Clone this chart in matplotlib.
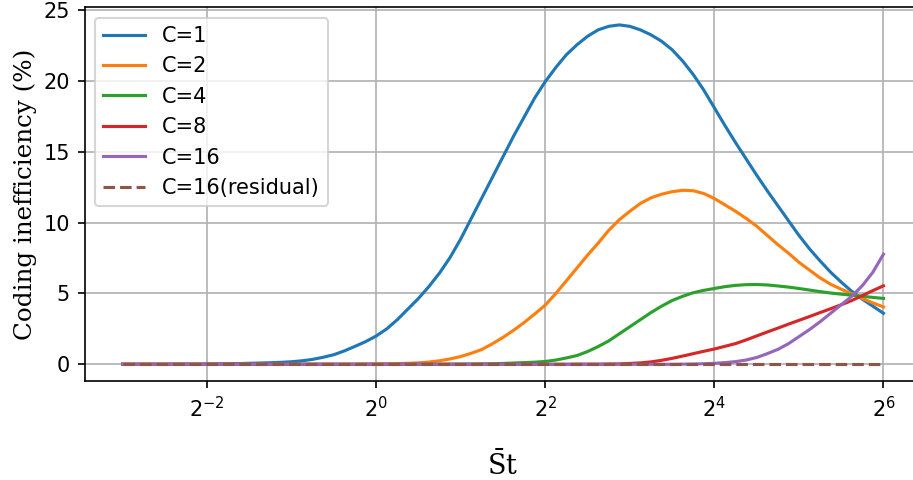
"""Coding inefficiency vs. St for several C values."""

import numpy as np
import matplotlib
matplotlib.use('Agg')
import matplotlib.pyplot as plt

# x positions as powers of two (St = 2**exponent), read every 1/8 octave
st_exponents = [
    -3.0, -2.875, -2.75, -2.625, -2.5, -2.375, -2.25, -2.125,
    -2.0, -1.875, -1.75, -1.625, -1.5, -1.375, -1.25, -1.125,
    -1.0, -0.875, -0.75, -0.625, -0.5, -0.375, -0.25, -0.125,
    0.0, 0.125, 0.25, 0.375, 0.5, 0.625, 0.75, 0.875,
    1.0, 1.125, 1.25, 1.375, 1.5, 1.625, 1.75, 1.875,
    2.0, 2.125, 2.25, 2.375, 2.5, 2.625, 2.75, 2.875,
    3.0, 3.125, 3.25, 3.375, 3.5, 3.625, 3.75, 3.875,
    4.0, 4.125, 4.25, 4.375, 4.5, 4.625, 4.75, 4.875,
    5.0, 5.125, 5.25, 5.375, 5.5, 5.625, 5.75, 5.875,
    6.0]

ineff_c1 = [
    0.0, 0.0, 0.0, 0.0, 0.0, 0.01, 0.01, 0.01,
    0.02, 0.03, 0.04, 0.05, 0.07, 0.09, 0.11, 0.14,
    0.18, 0.25, 0.35, 0.5, 0.68, 0.95, 1.27, 1.6,
    2.0, 2.5, 3.15, 3.9, 4.65, 5.5, 6.45, 7.55,
    8.85, 10.3, 11.75, 13.2, 14.65, 16.1, 17.45, 18.8,
    19.95, 20.95, 21.85, 22.55, 23.15, 23.6, 23.85, 23.95,
    23.85, 23.6, 23.25, 22.8, 22.2, 21.4, 20.45, 19.35,
    18.1, 16.85, 15.65, 14.5, 13.35, 12.25, 11.2, 10.15,
    9.1, 8.15, 7.3, 6.5, 5.8, 5.15, 4.6, 4.1,
    3.6]
ineff_c2 = [
    0.0, 0.0, 0.0, 0.0, 0.0, 0.0, 0.0, 0.0,
    0.0, 0.0, 0.0, 0.0, 0.0, 0.0, 0.0, 0.0,
    0.0, 0.0, 0.0, 0.0, 0.0, 0.0, 0.0, 0.01,
    0.02, 0.03, 0.05, 0.07, 0.1, 0.16, 0.25, 0.38,
    0.55, 0.78, 1.05, 1.45, 1.9, 2.4, 2.95, 3.55,
    4.18, 5.0, 5.9, 6.8, 7.7, 8.55, 9.45, 10.2,
    10.8, 11.35, 11.75, 12.0, 12.18, 12.28, 12.25, 12.05,
    11.7, 11.25, 10.8, 10.3, 9.75, 9.1, 8.45, 7.85,
    7.2, 6.65, 6.1, 5.65, 5.3, 4.98, 4.65, 4.33,
    4.05]
ineff_c4 = [
    0.0, 0.0, 0.0, 0.0, 0.0, 0.0, 0.0, 0.0,
    0.0, 0.0, 0.0, 0.0, 0.0, 0.0, 0.0, 0.0,
    0.0, 0.0, 0.0, 0.0, 0.0, 0.0, 0.0, 0.0,
    0.0, 0.0, 0.0, 0.0, 0.0, 0.0, 0.0, 0.01,
    0.01, 0.02, 0.03, 0.04, 0.06, 0.09, 0.12, 0.15,
    0.2, 0.3, 0.45, 0.62, 0.9, 1.25, 1.65, 2.15,
    2.65, 3.15, 3.65, 4.1, 4.5, 4.8, 5.05, 5.22,
    5.35, 5.48, 5.57, 5.62, 5.63, 5.6, 5.53, 5.45,
    5.35, 5.24, 5.13, 5.03, 4.95, 4.88, 4.8, 4.72,
    4.65]
ineff_c8 = [
    0.0, 0.0, 0.0, 0.0, 0.0, 0.0, 0.0, 0.0,
    0.0, 0.0, 0.0, 0.0, 0.0, 0.0, 0.0, 0.0,
    0.0, 0.0, 0.0, 0.0, 0.0, 0.0, 0.0, 0.0,
    0.0, 0.0, 0.0, 0.0, 0.0, 0.0, 0.0, 0.0,
    0.0, 0.0, 0.0, 0.0, 0.0, 0.0, 0.0, 0.0,
    0.0, 0.0, 0.0, 0.01, 0.01, 0.01, 0.02, 0.03,
    0.06, 0.1, 0.17, 0.28, 0.42, 0.58, 0.75, 0.92,
    1.08, 1.27, 1.46, 1.72, 2.0, 2.28, 2.55, 2.83,
    3.1, 3.37, 3.65, 3.92, 4.2, 4.5, 4.85, 5.2,
    5.54]
ineff_c16 = [
    0.0, 0.0, 0.0, 0.0, 0.0, 0.0, 0.0, 0.0,
    0.0, 0.0, 0.0, 0.0, 0.0, 0.0, 0.0, 0.0,
    0.0, 0.0, 0.0, 0.0, 0.0, 0.0, 0.0, 0.0,
    0.0, 0.0, 0.0, 0.0, 0.0, 0.0, 0.0, 0.0,
    0.0, 0.0, 0.0, 0.0, 0.0, 0.0, 0.0, 0.0,
    0.0, 0.0, 0.0, 0.0, 0.0, 0.0, 0.0, 0.0,
    0.0, 0.0, 0.0, 0.0, 0.0, 0.01, 0.02, 0.04,
    0.07, 0.12, 0.19, 0.3, 0.48, 0.75, 1.05, 1.45,
    1.95, 2.45, 3.0, 3.6, 4.2, 4.8, 5.55, 6.5,
    7.77]
# residual of C=16 stays at zero over the whole range
ineff_c16_residual = [0.0 for _ in st_exponents]

labels = ['C=1', 'C=2', 'C=4', 'C=8', 'C=16']
tick_exponents = [-2, 0, 2, 4, 6]

st = np.power(2.0, st_exponents)

fig = plt.figure(figsize=(913 / 150, 480 / 150), dpi=150)
ax = fig.add_axes([0.0926, 0.2056, 0.9167, 0.7794])

for vals, lab in zip([ineff_c1, ineff_c2, ineff_c4, ineff_c8, ineff_c16], labels):
    ax.plot(st, vals, label=lab)
ax.plot(st, ineff_c16_residual, '--', label='C=16(residual)')

ax.set_xscale('log', base=2)
ax.set_xlim(2 ** -3.45, 2 ** 6.45)
ax.set_ylim(-1.2, 25.2)
ax.set_xticks([2.0 ** e for e in tick_exponents])
ax.xaxis.set_minor_locator(matplotlib.ticker.NullLocator())
ax.set_yticks([0, 5, 10, 15, 20, 25])

ax.grid(True)
ax.legend(loc='upper left')

ax.set_ylabel('Coding inefficiency (%)', family='DejaVu Serif', fontsize=11.8,
              labelpad=3)
ax.set_xlabel(r'$\bar{\mathrm{S}}\mathrm{t}$', fontsize=13, labelpad=14,
              math_fontfamily='dejavuserif')

fig.savefig('out.png', dpi=150)
